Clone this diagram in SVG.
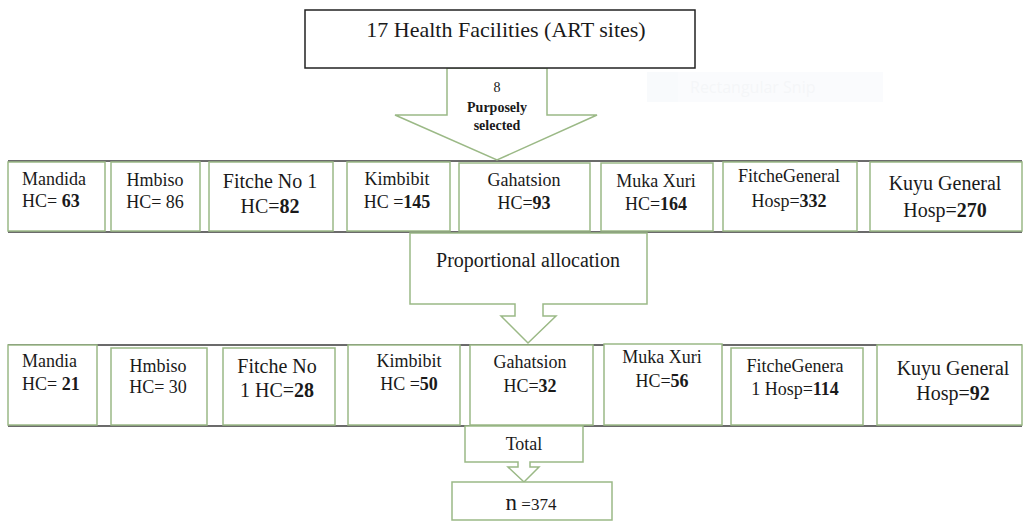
<svg xmlns="http://www.w3.org/2000/svg" width="1027" height="531" viewBox="0 0 1027 531">
<style>
text{font-family:"Liberation Serif","Times New Roman",serif;fill:#1a1a1a;text-anchor:middle}
.s{font-size:18px}
.l{font-size:20px}
.b{font-weight:bold}
.box{fill:#fff;stroke:#9bb986;stroke-width:1.5}
.arr{fill:#fff;stroke:#9bb986;stroke-width:1.5;stroke-linejoin:miter}
.frame{stroke:#3a3a3a;stroke-width:1.6}
.lt{text-anchor:start}
</style>
<rect width="1027" height="531" fill="#fff"/>
<g id="snip-ghost" opacity="0.4">
<rect x="647" y="72" width="236" height="30" fill="#f4f7fb"/>
<rect x="647" y="72" width="31" height="30" fill="#eef3fa"/>
<text x="690" y="93" class="lt" style="font-family:'Open Sans',sans-serif;font-size:16px;fill:#e6e9ef">Rectangular Snip</text>
</g>
<g id="frames">
<line class="frame" x1="8" y1="161" x2="1022" y2="161"/>
<line class="frame" x1="8" y1="232" x2="1022" y2="232"/>
<line class="frame" x1="8" y1="345" x2="1022" y2="345"/>
<line class="frame" x1="8" y1="426" x2="1022" y2="426"/>
</g>
<g id="connectors">
<g id="arrow-selected">
<polygon class="arr" points="447,68 547,68 547,115 597,115 497,160 395,115 447,115"/>
<text x="497" y="92" style="font-size:14px">8</text>
<text x="497" y="112" class="b" style="font-size:14px">Purposely</text>
<text x="497" y="130" class="b" style="font-size:14px">selected</text>
</g>
<g id="arrow-proportional">
<polygon class="arr" points="410,233 647,233 647,304 543,304 543,316 556,316 528,343 501,316 515,316 515,304 410,304"/>
<text x="528" y="267" class="l">Proportional allocation</text>
</g>
<g id="arrow-total">
<polygon class="arr" points="465,426 583,426 583,462 530,462 530,467 539,467 524,482 508,467 518,467 518,462 465,462"/>
<text x="524" y="450" style="font-size:18px">Total</text>
</g>
</g>
<g id="top">
<rect x="305" y="10" width="390" height="58" fill="#fff" stroke="#222" stroke-width="1.5"/>
<text x="506" y="37" style="font-size:22px">17 Health Facilities (ART sites)</text>
</g>
<g id="r1-mandida"><rect class="box" x="8" y="162" width="97" height="69"/>
<text class="s lt" x="22" y="185">Mandida</text><text class="s lt" x="22" y="207">HC= <tspan class="b">63</tspan></text></g>
<g id="r1-hmbiso"><rect class="box" x="111" y="162" width="89" height="69"/>
<text class="s" x="155" y="186">Hmbiso</text><text class="s" x="155" y="208">HC= 86</text></g>
<g id="r1-fitche1"><rect class="box" x="209" y="162" width="124" height="69"/>
<text class="l" x="270" y="188">Fitche No 1</text><text class="l" x="270" y="213">HC=<tspan class="b">82</tspan></text></g>
<g id="r1-kimbibit"><rect class="box" x="347" y="162" width="103" height="69"/>
<text class="s" x="397" y="185">Kimbibit</text><text class="s" x="397" y="208">HC =<tspan class="b">145</tspan></text></g>
<g id="r1-gahatsion"><rect class="box" x="459" y="163" width="131" height="68"/>
<text class="s" x="524" y="186">Gahatsion</text><text class="s" x="524" y="209">HC=<tspan class="b">93</tspan></text></g>
<g id="r1-muka"><rect class="box" x="601" y="163" width="112" height="68"/>
<text class="s" x="656" y="187">Muka Xuri</text><text class="s" x="656" y="210">HC=<tspan class="b">164</tspan></text></g>
<g id="r1-fitchegen"><rect class="box" x="723" y="162" width="134" height="69"/>
<text class="s" x="789" y="182">FitcheGeneral</text><text class="s" x="789" y="207">Hosp=<tspan class="b">332</tspan></text></g>
<g id="r1-kuyu"><rect class="box" x="870" y="162" width="152" height="69"/>
<text class="l" x="945" y="190">Kuyu General</text><text class="l" x="945" y="217">Hosp=<tspan class="b">270</tspan></text></g>
<g id="r2-mandia"><rect class="box" x="8" y="345" width="89" height="80"/>
<text class="s lt" x="22" y="367">Mandia</text><text class="s lt" x="22" y="390">HC= <tspan class="b">21</tspan></text></g>
<g id="r2-hmbiso"><rect class="box" x="111" y="348" width="96" height="77"/>
<text class="s" x="158" y="372">Hmbiso</text><text class="s" x="158" y="393">HC= 30</text></g>
<g id="r2-fitche1"><rect class="box" x="223" y="348" width="112" height="77"/>
<text class="l" x="277" y="373">Fitche No</text><text class="l" x="277" y="397">1 HC=<tspan class="b">28</tspan></text></g>
<g id="r2-kimbibit"><rect class="box" x="348" y="345" width="112" height="80"/>
<text class="s" x="409" y="367">Kimbibit</text><text class="s" x="409" y="390">HC =<tspan class="b">50</tspan></text></g>
<g id="r2-gahatsion"><rect class="box" x="470" y="345" width="123" height="80"/>
<text class="s" x="530" y="368">Gahatsion</text><text class="s" x="530" y="392">HC=<tspan class="b">32</tspan></text></g>
<g id="r2-muka"><rect class="box" x="604" y="344" width="118" height="81"/>
<text class="s" x="662" y="363">Muka Xuri</text><text class="s" x="662" y="387">HC=<tspan class="b">56</tspan></text></g>
<g id="r2-fitchegen"><rect class="box" x="731" y="348" width="132" height="77"/>
<text class="s" x="795" y="372">FitcheGenera</text><text class="s" x="795" y="395">1 Hosp=<tspan class="b">114</tspan></text></g>
<g id="r2-kuyu"><rect class="box" x="877" y="345" width="145" height="80"/>
<text class="l" x="953" y="375">Kuyu General</text><text class="l" x="953" y="400">Hosp=<tspan class="b">92</tspan></text></g>
<g id="total-n"><rect class="box" x="452" y="482" width="160" height="38"/>
<text x="531" y="510" style="font-size:17px"><tspan style="font-size:23px">n</tspan> =374</text></g>
</svg>
